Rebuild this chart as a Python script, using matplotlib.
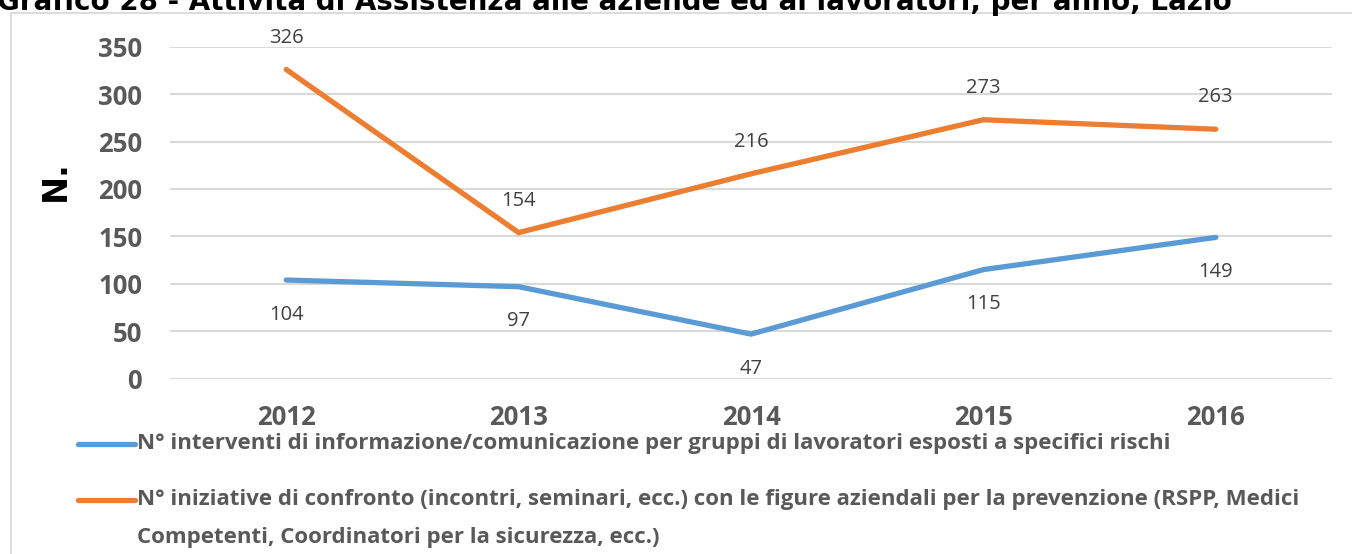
import matplotlib
matplotlib.use("Agg")
import matplotlib.pyplot as plt
from matplotlib.lines import Line2D
from matplotlib.patches import Rectangle

years = ["2012", "2013", "2014", "2015", "2016"]
interventi = [104, 97, 47, 115, 149]
iniziative = [326, 154, 216, 273, 263]
label_interventi = "N° interventi di informazione/comunicazione per gruppi di lavoratori esposti a specifici rischi"
label_iniziative = ("N° iniziative di confronto (incontri, seminari, ecc.) con le figure aziendali per la prevenzione (RSPP, Medici\n"
                    "Competenti, Coordinatori per la sicurezza, ecc.)")
title = "Grafico 28 - Attività di Assistenza alle aziende ed ai lavoratori, per anno, Lazio"
yticks = [0, 50, 100, 150, 200, 250, 300, 350]

BLUE = "#5B9BD5"
ORANGE = "#ED7D31"
GRID = "#D9D9D9"
TICK = "#595959"
LABEL = "#404040"
FONT = "Open Sans"

W, H = 1352, 554
fig = plt.figure(figsize=(W / 100, H / 100), dpi=100)

# outer chart frame (partly outside the picture)
fig.add_artist(Rectangle((11 / W, -0.2), 1.2, 1 - 13 / H + 0.2, transform=fig.transFigure,
                         fill=False, edgecolor=GRID, linewidth=1.3))

# clipped title at the very top
fig.text(-0.002, 1 - 10 / H, title, ha="left", va="baseline", fontsize=20,
         fontweight="bold", family="DejaVu Sans", color="black")

ax = fig.add_axes([170 / W, 1 - 378.7 / H, (1332 - 170) / W, (378.7 - 46.7) / H])
x = list(range(len(years)))
ax.plot(x, interventi, color=BLUE, linewidth=3.8, solid_capstyle="round", solid_joinstyle="miter")
ax.plot(x, iniziative, color=ORANGE, linewidth=3.8, solid_capstyle="round", solid_joinstyle="miter")

for xi, v in zip(x, interventi):
    ax.annotate(str(v), (xi, v), xytext=(0, -25), textcoords="offset points",
                ha="center", va="center", fontsize=14.5, family=FONT, color=LABEL)
for xi, v in zip(x, iniziative):
    ax.annotate(str(v), (xi, v), xytext=(0, 23), textcoords="offset points",
                ha="center", va="center", fontsize=14.5, family=FONT, color=LABEL)

ax.set_xlim(-0.5, len(years) - 0.5)
ax.set_ylim(0, 350)
ax.set_yticks(yticks)
ax.set_xticks(x)
ax.set_xticklabels(years)
ax.grid(axis="y", color=GRID, linewidth=1.5)
ax.set_axisbelow(True)
for s in ax.spines.values():
    s.set_visible(False)
ax.tick_params(axis="both", length=0, colors=TICK)
ax.tick_params(axis="y", pad=20)
ax.tick_params(axis="x", pad=18)
for lab in ax.get_yticklabels() + ax.get_xticklabels():
    lab.set_fontfamily(FONT)
    lab.set_fontweight("bold")
    lab.set_fontsize(18.5)

fig.text(55 / W, 1 - 181 / H, "N.", rotation=90, ha="center", va="center",
         fontsize=24, fontweight="bold", family="DejaVu Sans", color="black")

# legend
def legend_entry(y_px, color):
    fig.add_artist(Line2D([78 / W, 135 / W], [1 - y_px / H, 1 - y_px / H], transform=fig.transFigure,
                          color=color, linewidth=3.8, solid_capstyle="round"))

LEG_FS = 16
legend_entry(444, BLUE)
fig.text(137 / W, 1 - 444 / H, label_interventi, ha="left", va="center", fontsize=LEG_FS,
         fontweight="bold", family=FONT, color=TICK)
legend_entry(500, ORANGE)
fig.text(137 / W, 1 - 500 / H, label_iniziative.split("\n")[0], ha="left", va="center", fontsize=LEG_FS,
         fontweight="bold", family=FONT, color=TICK)
fig.text(137 / W, 1 - 537 / H, label_iniziative.split("\n")[1], ha="left", va="center", fontsize=LEG_FS,
         fontweight="bold", family=FONT, color=TICK)

fig.savefig("out.png", dpi=100)
